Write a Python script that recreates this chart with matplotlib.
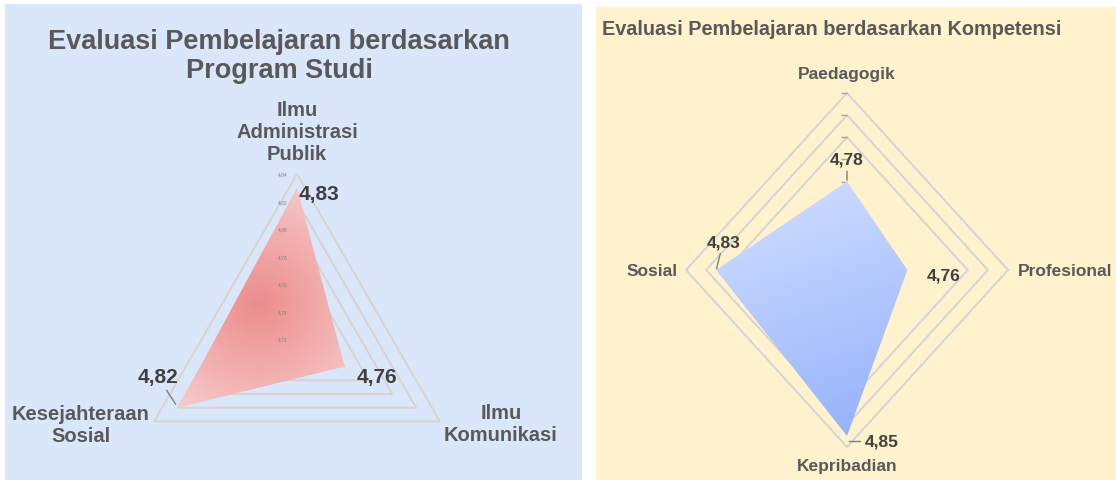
import numpy as np
import matplotlib.pyplot as plt
from matplotlib.patches import Polygon

plt.rcParams['font.family'] = ['Liberation Sans', 'DejaVu Sans']

# chart 1: per study programme
prodi_labels = ['Ilmu\nAdministrasi\nPublik', 'Ilmu\nKomunikasi', 'Kesejahteraan\nSosial']
prodi_values = [4.83, 4.76, 4.82]
prodi_ticks  = [4.72, 4.74, 4.76, 4.78, 4.80, 4.82, 4.84]

# chart 2: per competence
komp_labels = ['Paedagogik', 'Profesional', 'Kepribadian', 'Sosial']
komp_values = [4.78, 4.76, 4.85, 4.83]
komp_ticks  = [4.70, 4.72, 4.74, 4.76, 4.78, 4.80, 4.82, 4.84, 4.86]
komp_grid   = [4.82, 4.84, 4.86]

W, H = 1116, 481
fig = plt.figure(figsize=(W / 100, H / 100), dpi=100)
fig.patch.set_facecolor('white')

TXT = '#595959'
LBL = '#404040'


def panel(box, center, rad, color):
    x0, y0, x1, y1 = box
    ax = fig.add_axes([x0 / W, 1 - y1 / H, (x1 - x0) / W, (y1 - y0) / H])
    ax.set_facecolor(color)
    ax.set_xticks([])
    ax.set_yticks([])
    for s in ax.spines.values():
        s.set_visible(False)
    lims = ((x0 - center[0]) / rad[0], (x1 - center[0]) / rad[0],
            (center[1] - y1) / rad[1], (center[1] - y0) / rad[1])

    def P(x, y):
        return (x - center[0]) / rad[0], (center[1] - y) / rad[1]
    return ax, P, lims


def radar(values, vmin, vmax):
    n = len(values)
    ang = 2 * np.pi * np.arange(n) / n
    r = (np.asarray(values) - vmin) / (vmax - vmin)
    return np.column_stack([r * np.sin(ang), r * np.cos(ang)])


def grid_poly(ax, n, level, vmin, vmax, color):
    xy = radar([level] * n, vmin, vmax)
    ax.add_patch(Polygon(xy, closed=True, fill=False, ec=color, lw=1.4, zorder=1))


# ---------------- left chart ----------------
vmin1, vmax1 = prodi_ticks[0], prodi_ticks[-1]
ax1, P1, lim1 = panel((5, 5, 582, 481), (297, 340), (165, 165), '#dae7fb')

for lv in prodi_ticks[1:]:
    grid_poly(ax1, 3, lv, vmin1, vmax1, '#d8d4cc')

xy1 = radar(prodi_values, vmin1, vmax1)
shape1 = Polygon(xy1, closed=True, fc='none', ec='none')
ax1.add_patch(shape1)
gx, gy = np.meshgrid(np.linspace(-1, 1, 300), np.linspace(-0.6, 1.05, 300))
c0 = P1(258, 305)
d = np.clip(np.hypot(gx - c0[0], gy - c0[1]) / 0.95, 0, 1)[..., None]
inner = np.array([236, 140, 140]) / 255
outer = np.array([250, 216, 216]) / 255
img = inner * (1 - d) + outer * d
im = ax1.imshow(img, origin='lower', extent=[-1, 1, -0.6, 1.05], aspect='auto', zorder=2)
im.set_clip_path(shape1)

for lv in prodi_ticks:
    r = (lv - vmin1) / (vmax1 - vmin1)
    ax1.text(-14 / 165, r, f'{lv:.2f}'.replace('.', ','), fontsize=3.5,
             color='#7f7f7f', ha='center', va='center', zorder=4)

ax1.text(*P1(279, 56), 'Evaluasi Pembelajaran berdasarkan\nProgram Studi', fontsize=19.5,
         fontweight='bold', color=TXT, ha='center', va='center', linespacing=1.15)
ax1.text(*P1(297, 132), prodi_labels[0], fontsize=14.5, fontweight='bold', color=TXT,
         ha='center', va='center', linespacing=1.2)
ax1.text(*P1(501, 425), prodi_labels[1], fontsize=14.5, fontweight='bold', color=TXT,
         ha='center', va='center', linespacing=1.2)
ax1.text(*P1(81, 426), prodi_labels[2], fontsize=14.5, fontweight='bold', color=TXT,
         ha='center', va='center', linespacing=1.2)

offs1 = [(22, 6, False), (32, 10, False), (-20, -31, True)]
for (x, y), v, (dx, dy, lead) in zip(xy1, prodi_values, offs1):
    ap = dict(arrowstyle='-', color='#7f7f7f', lw=1, shrinkA=1, shrinkB=3) if lead else None
    ax1.annotate(f'{v:.2f}'.replace('.', ','), xy=(x, y), xytext=(dx * 0.72, -dy * 0.72),
                 textcoords='offset points', fontsize=15, fontweight='bold', color=LBL,
                 ha='center', va='center', arrowprops=ap, zorder=5)
ax1.set_xlim(lim1[0], lim1[1])
ax1.set_ylim(lim1[2], lim1[3])

# ---------------- right chart ----------------
vmin2, vmax2 = komp_ticks[0], komp_ticks[-1]
ax2, P2, lim2 = panel((596, 8, 1116, 481), (847, 271), (161, 177), '#fff2cc')

for lv in komp_grid:
    grid_poly(ax2, 4, lv, vmin2, vmax2, '#d2d5d8')

xy2 = radar(komp_values, vmin2, vmax2)
shape2 = Polygon(xy2, closed=True, fc='none', ec='none')
ax2.add_patch(shape2)
gx, gy = np.meshgrid(np.linspace(-1, 1, 300), np.linspace(-1, 1, 300))
px = 847 + gx * 161
py = 271 - gy * 177
t = np.clip(((py - 182) + 0.35 * (px - 716)) / 322, 0, 1)[..., None]
top = np.array([212, 224, 255]) / 255
bot = np.array([146, 176, 250]) / 255
img2 = top * (1 - t) + bot * t
im2 = ax2.imshow(img2, origin='lower', extent=[-1, 1, -1, 1], aspect='auto', zorder=2)
im2.set_clip_path(shape2)

rt = (np.array(komp_ticks) - vmin2) / (vmax2 - vmin2)
ax2.plot(np.full(len(rt), -3 / 161), rt, ls='none', marker='_', ms=4, mew=1,
         color='#a6a6a6', zorder=1)

ax2.text(*P2(602, 30), 'Evaluasi Pembelajaran berdasarkan Kompetensi', fontsize=14.3,
         fontweight='bold', color=TXT, ha='left', va='center')
ax2.text(*P2(847, 75), komp_labels[0], fontsize=12.5, fontweight='bold', color=TXT,
         ha='center', va='center')
ax2.text(*P2(1018, 272), komp_labels[1], fontsize=12.5, fontweight='bold', color=TXT,
         ha='left', va='center')
ax2.text(*P2(847, 466), komp_labels[2], fontsize=12.5, fontweight='bold', color=TXT,
         ha='center', va='center')
ax2.text(*P2(678, 272), komp_labels[3], fontsize=12.5, fontweight='bold', color=TXT,
         ha='right', va='center')

offs2 = [(0, -22, 'line'), (36, 5, None), (35, 5, 'angle'), (7, -28, 'line')]
for (x, y), v, (dx, dy, lead) in zip(xy2, komp_values, offs2):
    ap = None
    if lead == 'line':
        ap = dict(arrowstyle='-', color='#7f7f7f', lw=1, shrinkA=1, shrinkB=1)
    elif lead == 'angle':
        ap = dict(arrowstyle='-', color='#7f7f7f', lw=1, shrinkA=2, shrinkB=4,
                  connectionstyle='angle,angleA=0,angleB=90,rad=0')
    ax2.annotate(f'{v:.2f}'.replace('.', ','), xy=(x, y), xytext=(dx * 0.72, -dy * 0.72),
                 textcoords='offset points', fontsize=12.5, fontweight='bold', color=LBL,
                 ha='center', va='center', arrowprops=ap, zorder=5)
ax2.set_xlim(lim2[0], lim2[1])
ax2.set_ylim(lim2[2], lim2[3])

fig.savefig('out.png', dpi=100)
